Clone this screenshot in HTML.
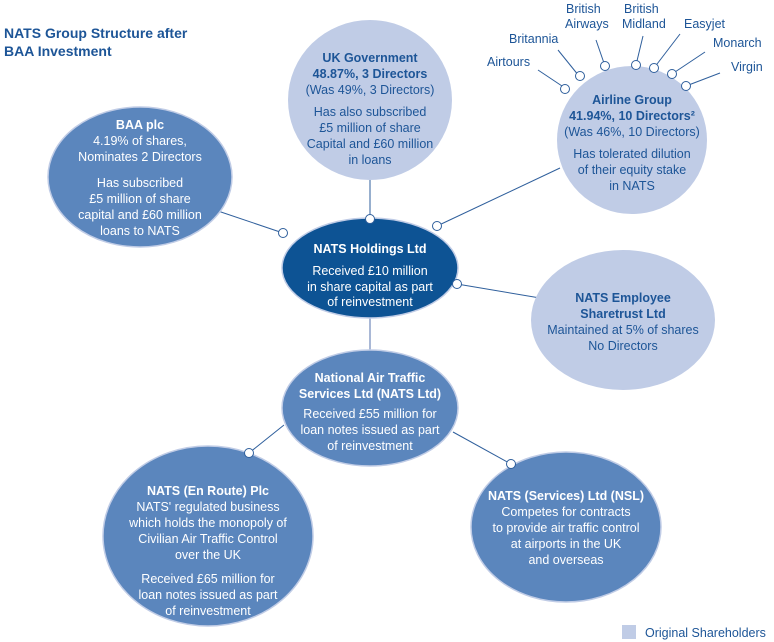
<!DOCTYPE html>
<html><head><meta charset="utf-8"><style>
html,body{margin:0;padding:0;background:#fff;}
svg{display:block;font-family:"Liberation Sans",sans-serif;}
.w{fill:#fff;font-size:12.5px;text-anchor:middle;}
.d{fill:#1d5597;font-size:12.5px;text-anchor:middle;}
.b{font-weight:bold;}
.ln{stroke:#2f5f9c;stroke-width:1;fill:none;}
.c{fill:#fff;stroke:#2f5f9c;stroke-width:1;}
</style></head><body>
<svg width="774" height="642" viewBox="0 0 774 642">
<text x="4" y="38" style="font-size:14px;font-weight:bold;fill:#1d5597">NATS Group Structure after</text>
<text x="4" y="56" style="font-size:14px;font-weight:bold;fill:#1d5597">BAA Investment</text>

<line class="ln" x1="370" y1="180" x2="370" y2="219"/>
<line class="ln" x1="437" y1="226" x2="560" y2="168"/>
<line class="ln" x1="215" y1="210" x2="283" y2="233"/>
<line class="ln" x1="457" y1="284" x2="540" y2="298"/>
<line x1="370" y1="318" x2="370" y2="350" stroke="#a9b8d6" stroke-width="2"/>
<line class="ln" x1="284" y1="425" x2="249" y2="453"/>
<line class="ln" x1="453" y1="432" x2="511" y2="464"/>
<line class="ln" x1="565" y1="88" x2="538" y2="70"/>
<line class="ln" x1="579" y1="76" x2="558" y2="50"/>
<line class="ln" x1="605" y1="66" x2="596" y2="40"/>
<line class="ln" x1="636" y1="65" x2="643" y2="36"/>
<line class="ln" x1="654" y1="68" x2="680" y2="34"/>
<line class="ln" x1="672" y1="74" x2="705" y2="52"/>
<line class="ln" x1="686" y1="86" x2="720" y2="73"/>

<ellipse cx="370" cy="100" rx="82" ry="80" fill="#c0cce6"/>
<ellipse cx="632" cy="140" rx="75" ry="74" fill="#c0cce6"/>
<ellipse cx="623" cy="320" rx="92" ry="70" fill="#c0cce6"/>
<ellipse cx="140" cy="177" rx="92" ry="70" fill="#5b86bd" stroke="#c0cce6" stroke-width="1.5"/>
<ellipse cx="370" cy="268" rx="88" ry="50" fill="#0d5394" stroke="#c0cce6" stroke-width="1.5"/>
<ellipse cx="370" cy="408" rx="88" ry="58" fill="#5b86bd" stroke="#c0cce6" stroke-width="1.5"/>
<ellipse cx="208" cy="536" rx="105" ry="90" fill="#5b86bd" stroke="#c0cce6" stroke-width="1.5"/>
<ellipse cx="566" cy="527" rx="95" ry="75" fill="#5b86bd" stroke="#c0cce6" stroke-width="1.5"/>

<circle class="c" cx="370" cy="219" r="4.5"/>
<circle class="c" cx="437" cy="226" r="4.5"/>
<circle class="c" cx="283" cy="233" r="4.5"/>
<circle class="c" cx="457" cy="284" r="4.5"/>
<circle class="c" cx="249" cy="453" r="4.5"/>
<circle class="c" cx="511" cy="464" r="4.5"/>
<circle class="c" cx="565" cy="89" r="4.5"/>
<circle class="c" cx="580" cy="76" r="4.5"/>
<circle class="c" cx="605" cy="66" r="4.5"/>
<circle class="c" cx="636" cy="65" r="4.5"/>
<circle class="c" cx="654" cy="68" r="4.5"/>
<circle class="c" cx="672" cy="74" r="4.5"/>
<circle class="c" cx="686" cy="86" r="4.5"/>

<g class="d">
<text x="487" y="66" style="text-anchor:start">Airtours</text>
<text x="509" y="43" style="text-anchor:start">Britannia</text>
<text x="566" y="13" style="text-anchor:start">British</text>
<text x="565" y="28" style="text-anchor:start">Airways</text>
<text x="624" y="13" style="text-anchor:start">British</text>
<text x="622" y="28" style="text-anchor:start">Midland</text>
<text x="684" y="28" style="text-anchor:start">Easyjet</text>
<text x="713" y="47" style="text-anchor:start">Monarch</text>
<text x="731" y="71" style="text-anchor:start">Virgin</text>
</g>

<text class="d b" x="370" y="62">UK Government</text>
<text class="d b" x="370" y="78">48.87%, 3 Directors</text>
<text class="d" x="370" y="94">(Was 49%, 3 Directors)</text>
<text class="d" x="370" y="116">Has also subscribed</text>
<text class="d" x="370" y="132">£5 million of share</text>
<text class="d" x="370" y="148">Capital and £60 million</text>
<text class="d" x="370" y="164">in loans</text>

<text class="d b" x="632" y="104">Airline Group</text>
<text class="d b" x="632" y="120">41.94%, 10 Directors²</text>
<text class="d" x="632" y="136">(Was 46%, 10 Directors)</text>
<text class="d" x="632" y="158">Has tolerated dilution</text>
<text class="d" x="632" y="174">of their equity stake</text>
<text class="d" x="632" y="190">in NATS</text>

<text class="w b" x="140" y="129">BAA plc</text>
<text class="w" x="140" y="145">4.19% of shares,</text>
<text class="w" x="140" y="161">Nominates 2 Directors</text>
<text class="w" x="140" y="187">Has subscribed</text>
<text class="w" x="140" y="203">£5 million of share</text>
<text class="w" x="140" y="219">capital and £60 million</text>
<text class="w" x="140" y="235">loans to NATS</text>

<text class="w b" x="370" y="253">NATS Holdings Ltd</text>
<text class="w" x="370" y="275">Received £10 million</text>
<text class="w" x="370" y="291">in share capital as part</text>
<text class="w" x="370" y="306">of reinvestment</text>

<text class="d b" x="623" y="302">NATS Employee</text>
<text class="d b" x="623" y="318">Sharetrust Ltd</text>
<text class="d" x="623" y="334">Maintained at 5% of shares</text>
<text class="d" x="623" y="350">No Directors</text>

<text class="w b" x="370" y="382">National Air Traffic</text>
<text class="w b" x="370" y="398">Services Ltd (NATS Ltd)</text>
<text class="w" x="370" y="418">Received £55 million for</text>
<text class="w" x="370" y="434">loan notes issued as part</text>
<text class="w" x="370" y="450">of reinvestment</text>

<text class="w b" x="208" y="495">NATS (En Route) Plc</text>
<text class="w" x="208" y="511">NATS' regulated business</text>
<text class="w" x="208" y="527">which holds the monopoly of</text>
<text class="w" x="208" y="543">Civilian Air Traffic Control</text>
<text class="w" x="208" y="559">over the UK</text>
<text class="w" x="208" y="583">Received £65 million for</text>
<text class="w" x="208" y="599">loan notes issued as part</text>
<text class="w" x="208" y="615">of reinvestment</text>

<text class="w b" x="566" y="500">NATS (Services) Ltd (NSL)</text>
<text class="w" x="566" y="516">Competes for contracts</text>
<text class="w" x="566" y="532">to provide air traffic control</text>
<text class="w" x="566" y="548">at airports in the UK</text>
<text class="w" x="566" y="564">and overseas</text>

<rect x="622" y="625" width="14" height="14" fill="#c0cce6"/>
<text class="d" x="645" y="637" style="text-anchor:start">Original Shareholders</text>
</svg>
</body></html>
